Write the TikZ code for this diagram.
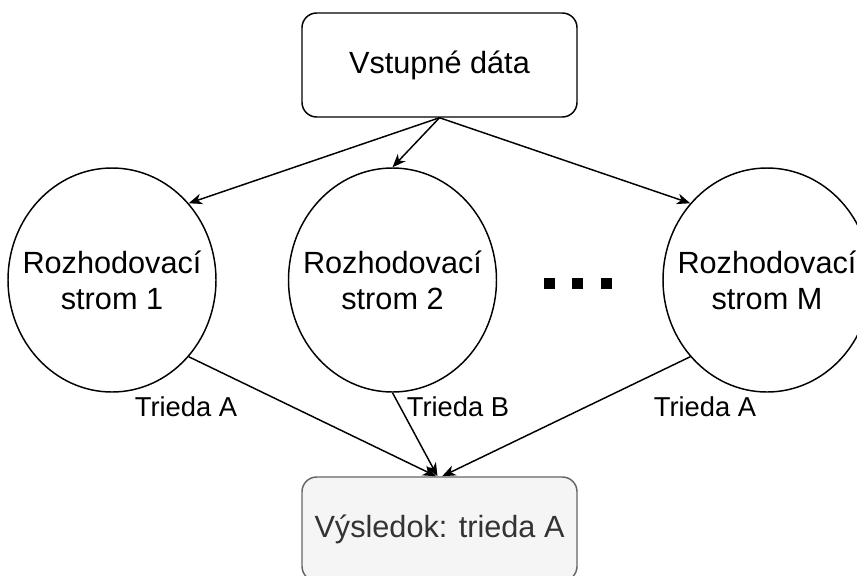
\documentclass[tikz,border=0pt]{standalone}
\usepackage{fontspec}
\setmainfont{Liberation Sans}
\usetikzlibrary{shapes.geometric,arrows.meta}
\definecolor{outfill}{HTML}{F5F5F5}
\definecolor{outline}{HTML}{666666}
\definecolor{outtext}{HTML}{333333}
\begin{document}
\begin{tikzpicture}[x=0.75pt,y=-0.75pt,
  box/.style={draw, rounded corners=11pt, line width=1.1pt, minimum width=206.25pt,
    minimum height=78pt, inner sep=0pt, font=\fontsize{23}{27}\selectfont},
  tree/.style={ellipse, draw, line width=1.1pt, minimum width=156pt, minimum height=168pt,
    inner sep=0pt},
  treetext/.style={align=center, inner sep=0pt, font=\fontsize{23}{27}\selectfont},
  lbl/.style={font=\fontsize{20.5}{24}\selectfont, inner sep=0pt},
  link/.style={line width=1.1pt, -{Stealth[length=10pt,width=8pt,inset=3pt]}},
  dotbox/.style={fill=black, minimum size=8.25pt, inner sep=0pt}]
\useasboundingbox (0,0) rectangle (857,575);
\clip (0,0) rectangle (857,575);

% input and result boxes
\node[box] (in) at (439.5,65) {Vstupné dáta};
\node[box, fill=outfill, draw=outline, text=outtext] (out) at (439.5,529) {Výsledok: trieda A};

% decision trees (the caption sits in the centre so it does not widen the ellipse)
\node[tree, label={[treetext]center:Rozhodovací\\strom 1}] (t1) at (112,280) {};
\node[tree, label={[treetext]center:Rozhodovací\\strom 2}] (t2) at (392.5,280) {};
\node[tree, label={[treetext]center:Rozhodovací\\strom M}] (tm) at (767,280) {};

% ellipsis between the trees
\node[dotbox] (d1) at (549.5,283.5) {};
\node[dotbox] (d2) at (577.5,283.5) {};
\node[dotbox] (d3) at (606.5,283.5) {};

% data to every tree
\draw[link] (in.south) -- (t1.45);
\draw[link] (in.south) -- (t2.north);
\draw[link] (in.south) -- (tm.135);

% votes to the result
\draw[link] (t1.-45) -- ([xshift=-2.5pt]out.north);
\draw[link] (t2.south) -- ([xshift=-1.5pt]out.north);
\draw[link] (tm.-135) -- ([xshift=2pt]out.north);

% vote labels
\node[lbl] (v1) at (186,407) {Trieda A};
\node[lbl] (v2) at (458,407) {Trieda B};
\node[lbl] (vm) at (705,407) {Trieda A};
\end{tikzpicture}
\end{document}
